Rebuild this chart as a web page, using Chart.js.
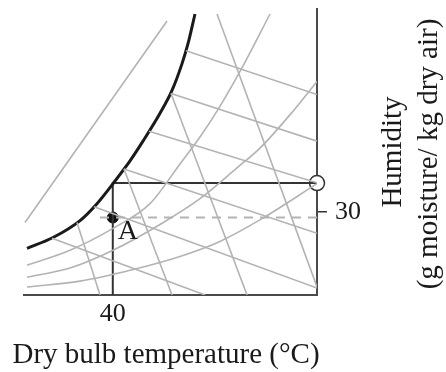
<!DOCTYPE html>
<html>
<head>
<meta charset="utf-8">
<script src="https://cdn.jsdelivr.net/npm/chart.js@4/dist/chart.umd.min.js"></script>
<style>
  html, body { margin: 0; padding: 0; background: #fff; }
  #wrap { width: 446px; height: 372px; }
</style>
</head>
<body>
<div id="wrap"><canvas id="chart" width="446" height="372"></canvas></div>
<script>
// x: dry bulb temperature (°C), y: humidity (g moisture / kg dry air)
const xTickValues = [40];
const yTickValues = [30];

// saturation curve (thick)
const saturationT = [30.34, 33.27, 36.31, 38.22, 40.02, 41.94, 43.40, 45.32, 46.67, 47.80, 48.47, 49.26];
const saturationH = [16.8, 20.7, 26.8, 32.9, 40.1, 48.3, 55.4, 65.45, 73.68, 83.33, 90.49, 101.2];

// relative humidity curves
const rh1T = [30.34, 35.18, 40.02, 44.19, 47.57, 49.82, 51.74, 54.33, 57.71];
const rh1H = [10.7, 16.1, 24.0, 32.9, 47.2, 56.9, 66.2, 80.5, 101.2];
const rh2T = [30.34, 35.18, 40.02, 45.32, 49.82, 53.99, 56.58, 60.30, 63.0];
const rh2H = [6.4, 9.7, 16.1, 25.4, 34.7, 45.8, 52.9, 66.2, 76.9];
const rh3T = [30.34, 36.31, 41.94, 47.57, 52.07, 56.81, 63.0];
const rh3H = [2.9, 5.0, 8.9, 13.9, 19.3, 27.5, 40.1];

// wet bulb lines [T1, H1, T2, H2]
const wetBulbLines = [
  [48.25, 88.0, 63.0, 72.2],
  [46.56, 72.6, 63.0, 55.4],
  [44.08, 59.0, 63.0, 40.4],
  [41.26, 45.4, 63.0, 22.2],
  [37.88, 31.8, 63.0, 2.5],
  [33.15, 20.4, 50.39, 0]
];

// specific volume lines [T1, H1, T2, H2]
const volumeLines = [
  [51.74, 101.2, 63.0, 2.9],
  [46.56, 72.6, 55.12, 0],
  [41.26, 45.4, 46.67, 0],
  [35.97, 26.1, 38.56, 0]
];

// thin line above the saturation curve
const outerLine = [30.11, 26.1, 46.11, 98.7];

// state A and the construction lines
const pointAT = 40;
const pointAH = 27.9;
const dashStartT = 38.56;
const cornerH = 40.3;
const rightT = 63;

const GRAY = '#b3b3b3';
const DARK = '#333';
const SERIF = '"Liberation Serif", "Times New Roman", serif';

const toPts = (ts, hs) => ts.map((t, i) => ({x: t, y: hs[i]}));
const seg = s => [{x: s[0], y: s[1]}, {x: s[2], y: s[3]}];

const grayLine = data => ({
  data: data,
  borderColor: GRAY,
  borderWidth: 1.6,
  pointRadius: 0,
  showLine: true,
  tension: 0
});

const grayCurve = data => ({
  ...grayLine(data),
  cubicInterpolationMode: 'monotone'
});

const datasets = [];
wetBulbLines.forEach(s => datasets.push(grayLine(seg(s))));
volumeLines.forEach(s => datasets.push(grayLine(seg(s))));
datasets.push(grayLine(seg(outerLine)));
datasets.push(grayCurve(toPts(rh1T, rh1H)));
datasets.push(grayCurve(toPts(rh2T, rh2H)));
datasets.push(grayCurve(toPts(rh3T, rh3H)));

datasets.push({
  data: [{x: dashStartT, y: pointAH}, {x: rightT, y: pointAH}],
  borderColor: GRAY,
  borderWidth: 2,
  borderDash: [9, 7],
  pointRadius: 0,
  showLine: true
});

datasets.push({
  data: toPts(saturationT, saturationH),
  borderColor: '#1a1a1a',
  borderWidth: 3,
  pointRadius: 0,
  showLine: true,
  cubicInterpolationMode: 'monotone'
});

datasets.push({
  data: [{x: pointAT, y: 0}, {x: pointAT, y: cornerH}, {x: rightT, y: cornerH}],
  borderColor: DARK,
  borderWidth: 2,
  pointRadius: 0,
  showLine: true,
  tension: 0
});

datasets.push({
  data: [{x: pointAT, y: pointAH}],
  pointRadius: 5.5,
  pointBackgroundColor: '#111',
  pointBorderColor: '#111',
  showLine: false
});

datasets.push({
  data: [{x: rightT, y: cornerH}],
  pointRadius: 7.5,
  pointBackgroundColor: '#fff',
  pointBorderColor: DARK,
  pointBorderWidth: 1.5,
  showLine: false,
  clip: false
});

const annotate = {
  id: 'annotate',
  afterDatasetsDraw(chart) {
    const {ctx, scales: {x, y}} = chart;
    ctx.save();
    ctx.fillStyle = '#1a1a1a';
    ctx.textBaseline = 'alphabetic';
    ctx.textAlign = 'left';
    ctx.font = '28px ' + SERIF;
    ctx.fillText('A', x.getPixelForValue(pointAT) + 5, y.getPixelForValue(pointAH) + 21);

    ctx.font = '29px ' + SERIF;
    ctx.textAlign = 'center';
    ctx.fillText('Dry bulb temperature (°C)', 166, 363);

    ctx.translate(401, 152);
    ctx.rotate(-Math.PI / 2);
    ctx.fillText('Humidity', 0, 0);
    ctx.restore();

    ctx.save();
    ctx.fillStyle = '#1a1a1a';
    ctx.font = '29px ' + SERIF;
    ctx.textAlign = 'center';
    ctx.textBaseline = 'alphabetic';
    ctx.translate(437, 154);
    ctx.rotate(-Math.PI / 2);
    ctx.fillText('(g moisture/ kg dry air)', 0, 0);
    ctx.restore();
  }
};

// keep the plot box fixed: no extra padding for the single tick labels
const fixBox = size => s => {
  if (s.isHorizontal()) s.height = size; else s.width = size;
  s.paddingTop = 0;
  s.paddingBottom = 0;
  s.paddingLeft = 0;
  s.paddingRight = 0;
};

new Chart(document.getElementById('chart'), {
  type: 'scatter',
  data: {datasets: datasets},
  plugins: [annotate],
  options: {
    responsive: false,
    animation: false,
    layout: {padding: {left: 24, top: 7, right: 0, bottom: 0}},
    plugins: {
      legend: {display: false},
      tooltip: {enabled: false}
    },
    scales: {
      x: {
        type: 'linear',
        position: 'bottom',
        min: 30,
        max: 63,
        afterFit: fixBox(77),
        afterBuildTicks: s => { s.ticks = xTickValues.map(v => ({value: v})); },
        grid: {display: false, drawTicks: false},
        border: {display: true, color: '#4a4a4a', width: 2},
        ticks: {
          font: {family: SERIF, size: 26},
          color: '#1a1a1a',
          padding: 4,
          maxRotation: 0
        }
      },
      y: {
        type: 'linear',
        position: 'right',
        min: 0,
        max: 103,
        afterFit: fixBox(129),
        afterBuildTicks: s => { s.ticks = yTickValues.map(v => ({value: v})); },
        grid: {
          display: true,
          drawOnChartArea: false,
          drawTicks: true,
          tickLength: 10,
          color: '#333',
          lineWidth: 1.5
        },
        border: {display: true, color: '#4a4a4a', width: 2},
        ticks: {
          font: {family: SERIF, size: 26},
          color: '#1a1a1a',
          padding: 8
        }
      }
    }
  }
});
</script>
</body>
</html>
